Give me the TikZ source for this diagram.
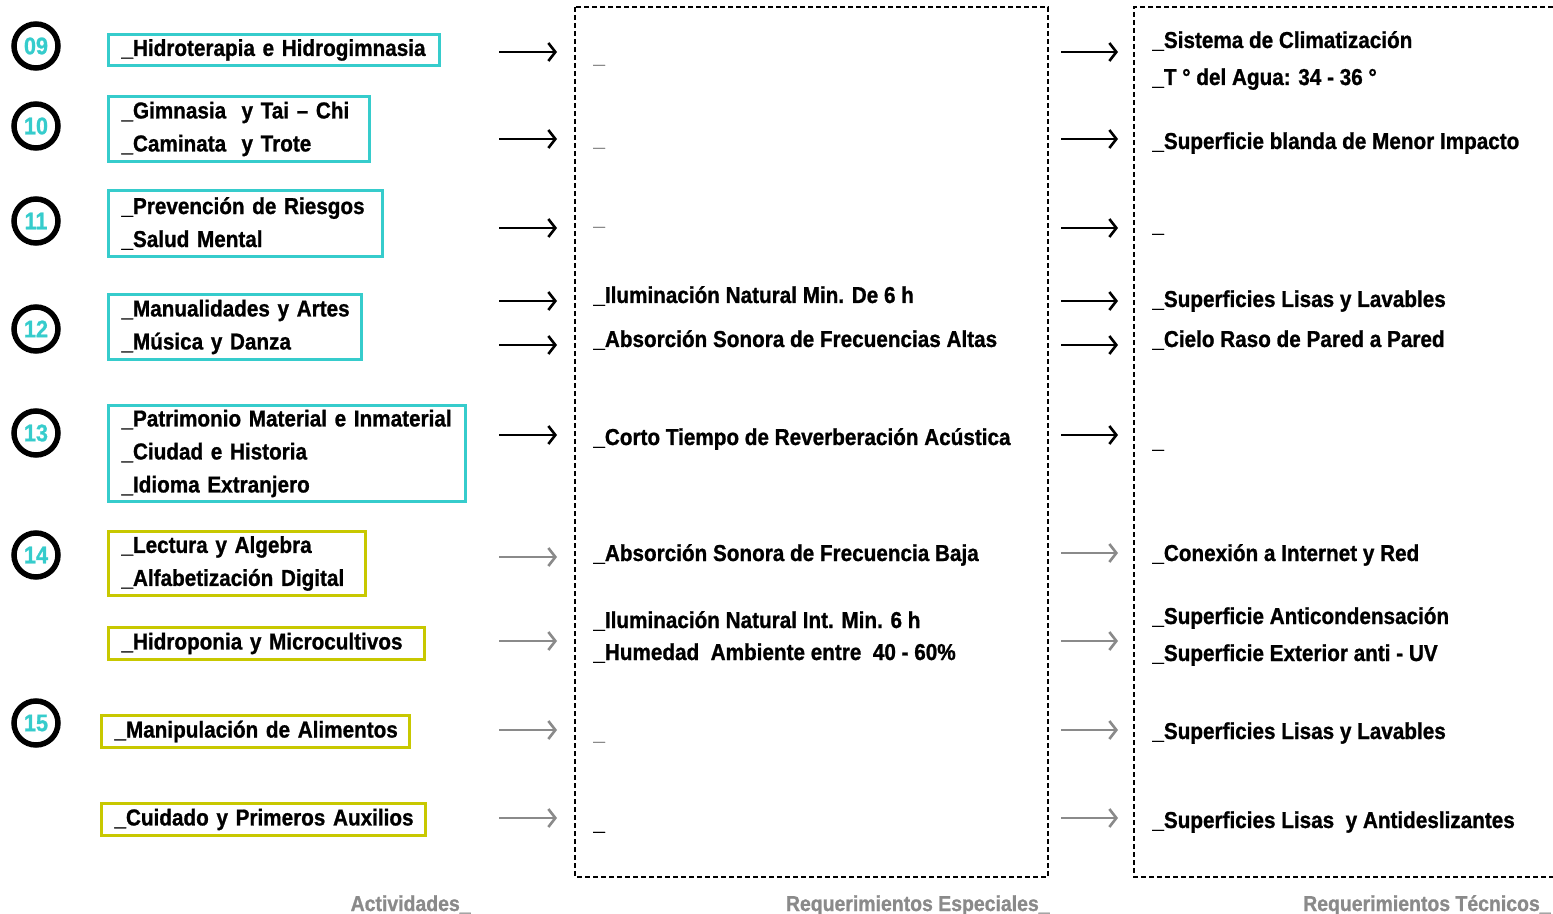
\documentclass[tikz,border=0pt]{standalone}
\usepackage{fontspec}
\setmainfont{Liberation Sans}[FakeStretch=0.9,BoldFeatures={FakeBold=1}]
\usetikzlibrary{arrows.meta}
\newcommand{\actline}[1]{\mbox{#1}}

\begin{document}
\begin{tikzpicture}[x=0.5pt,y=-0.5pt,font=\bfseries\fontsize{11.5}{16.5}\selectfont]
  \definecolor{cy}{HTML}{36CCCC}
  \definecolor{ye}{HTML}{C8C800}
  \definecolor{gr}{HTML}{8A8A8A}
  \tikzset{
    num/.style={circle,draw=black,line width=2.75pt,minimum size=22pt,inner sep=0pt,text=cy,font=\bfseries\fontsize{12}{12}\selectfont},
    actbox/.style={draw=#1,line width=1.5pt,anchor=north west,align=left,inner xsep=6.5pt,inner ysep=0pt},
    req/.style={anchor=base west,inner sep=0pt},
    bar/.style={req,text=gr},
    arr/.style={line width=1.3pt,-{Straight Barb[length=3.5pt,width=9pt]}},
    colname/.style={anchor=base east,inner sep=0pt,text=gr,font=\bfseries\fontsize{10.8}{12}\selectfont},
    frame/.style={line width=1.3pt,dash pattern=on 2.5pt off 1.5pt}
  }
  \useasboundingbox (0,0) rectangle (1553,914);
  % numbers
  \foreach \n/\y in {09/46,10/126,11/221,12/329,13/433,14/555,15/723}
    \node[num] (n\n) at (36,\y) {\n};
  % activities
  \node[actbox=cy,text width=152.5pt,minimum height=15.5pt] (a1) at (107,33) {\actline{\_Hidroterapia e Hidrogimnasia}};
  \node[actbox=cy,text width=117.5pt,minimum height=32.5pt] (a2) at (107,95) {\actline{\_Gimnasia \ y Tai -- Chi}\\\actline{\_Caminata \ y Trote}};
  \node[actbox=cy,text width=124pt,minimum height=33pt] (a3) at (107,189) {\actline{\_Prevención de Riesgos}\\\actline{\_Salud Mental}};
  \node[actbox=cy,text width=113.5pt,minimum height=32.5pt] (a4) at (107,293) {\actline{\_Manualidades y Artes}\\\actline{\_Música y Danza}};
  \node[actbox=cy,text width=165.5pt,minimum height=48pt] (a5) at (107,404) {\actline{\_Patrimonio Material e Inmaterial}\\\actline{\_Ciudad e Historia}\\\actline{\_Idioma Extranjero}};
  \node[actbox=ye,text width=115.5pt,minimum height=32pt] (a6) at (107,530) {\actline{\_Lectura y Algebra}\\\actline{\_Alfabetización Digital}};
  \node[actbox=ye,text width=145pt,minimum height=16pt] (a7) at (107,626) {\actline{\_Hidroponia y Microcultivos}};
  \node[actbox=ye,text width=141pt,minimum height=16pt] (a8) at (100,714) {\actline{\_Manipulación de Alimentos}};
  \node[actbox=ye,text width=149pt,minimum height=16pt] (a9) at (100,802) {\actline{\_Cuidado y Primeros Auxilios}};
  % arrows
  \foreach \y/\c [count=\i] in {52/black,139/black,228/black,301/black,345/black,435/black,557/gr,641/gr,730/gr,818/gr} {
    \coordinate (la\i) at (499,\y); \coordinate (lb\i) at (557,\y);
    \draw[arr,\c] (la\i) -- (lb\i);
  }
  \foreach \y/\c [count=\i] in {52/black,139/black,228/black,301/black,345/black,435/black,553/gr,641/gr,730/gr,818/gr} {
    \coordinate (ra\i) at (1061,\y); \coordinate (rb\i) at (1118,\y);
    \draw[arr,\c] (ra\i) -- (rb\i);
  }
  % frames
  \draw[frame] (575,7) rectangle (1048,877);
  \draw[frame] (1553,7) -- (1134,7) -- (1134,877) -- (1553,877);
  % special requirements
  \node[bar] (e1) at (593,63) {\_};
  \node[bar] (e2) at (593,146) {\_};
  \node[bar] (e3) at (593,225) {\_};
  \node[req] (e4) at (593,303) {\_Iluminación Natural Min. De 6 h};
  \node[req] (e5) at (593,347) {\_Absorción Sonora de Frecuencias Altas};
  \node[req] (e6) at (593,445) {\_Corto Tiempo de Reverberación Acústica};
  \node[req] (e7) at (593,561) {\_Absorción Sonora de Frecuencia Baja};
  \node[req] (e8) at (593,628) {\_Iluminación Natural Int. Min. 6 h};
  \node[req] (e9) at (593,660) {\_Humedad \ Ambiente entre \ 40 - 60\%};
  \node[bar] (e10) at (593,740) {\_};
  \node[req] (e11) at (593,830) {\_};
  % technical requirements
  \node[req] (t1) at (1152,48) {\_Sistema de Climatización};
  \node[req] (t2) at (1152,85) {\_T ° del Agua: 34 - 36 °};
  \node[req] (t3) at (1152,149) {\_Superficie blanda de Menor Impacto};
  \node[req] (t4) at (1152,232) {\_};
  \node[req] (t5) at (1152,307) {\_Superficies Lisas y Lavables};
  \node[req] (t6) at (1152,347) {\_Cielo Raso de Pared a Pared};
  \node[req] (t7) at (1152,448) {\_};
  \node[req] (t8) at (1152,561) {\_Conexión a Internet y Red};
  \node[req] (t9) at (1152,624) {\_Superficie Anticondensación};
  \node[req] (t10) at (1152,661) {\_Superficie Exterior anti - UV};
  \node[req] (t11) at (1152,739) {\_Superficies Lisas y Lavables};
  \node[req] (t12) at (1152,828) {\_Superficies Lisas \ y Antideslizantes};
  % column names
  \node[colname] (c1) at (471,911) {Actividades\_};
  \node[colname] (c2) at (1050,911) {Requerimientos Especiales\_};
  \node[colname] (c3) at (1551,911) {Requerimientos Técnicos\_};
\end{tikzpicture}
\end{document}
